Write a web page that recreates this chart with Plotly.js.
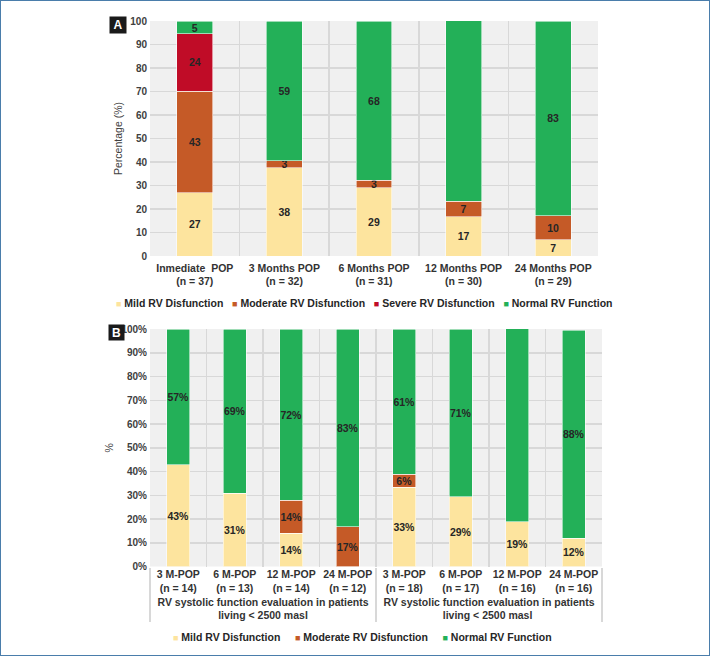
<!DOCTYPE html>
<html><head><meta charset="utf-8">
<script src="https://cdn.plot.ly/plotly-3.0.1.min.js"></script>
<style>
html,body{margin:0;padding:0;background:#fff}
#wrap{position:relative;width:710px;height:656px}
#chart{width:710px;height:656px}
#frame{position:absolute;left:0;top:0;width:710px;height:656px;box-sizing:border-box;border:1.5px solid #4a7dab;pointer-events:none}
</style>
</head><body><div id="wrap"><div id="chart"></div><div id="frame"></div></div>
<script>
// ---------- Panel A data ----------
const catsA = ['Inmediate\u00a0\u00a0POP<br>(n = 37)', '3 Months POP<br>(n = 32)', '6 Months POP<br>(n = 31)', '12 Months POP<br>(n = 30)', '24 Months POP<br>(n = 29)'];
const mildA     = [27.0, 37.5, 29.0, 16.7, 6.9];
const moderateA = [43.2, 3.1, 3.2, 6.7, 10.3];
const severeA   = [24.3, null, null, null, null];
const normalA   = [5.4, 59.4, 67.7, 76.7, 82.8];
const namesA = ['Mild RV Disfunction', 'Moderate RV Disfunction', 'Severe RV Disfunction', 'Normal RV Function'];

// ---------- Panel B data ----------
const groupLabel1 = 'RV systolic function evaluation in patients<br>living &lt; 2500 masl';
const groupLabel2 = 'RV systolic function evaluation in patients<br>living &lt; 2500 masl\u00a0';
const groupsB = [groupLabel1, groupLabel1, groupLabel1, groupLabel1, groupLabel2, groupLabel2, groupLabel2, groupLabel2];
const catsB = ['3 M-POP<br>(n = 14)', '6 M-POP<br>(n = 13)', '12 M-POP<br>(n = 14)', '24 M-POP<br>(n = 12)',
               '3 M-POP<br>(n = 18)', '6 M-POP<br>(n = 17)', '12 M-POP<br>(n = 16)', '24 M-POP<br>(n = 16)'];
const mildB     = [42.9, 30.8, 14.0, null, 33.3, 29.4, 18.8, 12.0];
const moderateB = [null, null, 14.0, 16.7, 5.6, null, null, null];
const normalB   = [57.1, 69.2, 72.0, 83.3, 61.1, 70.6, 81.3, 87.5];
const namesB = ['Mild RV Disfunction', 'Moderate RV Disfunction', 'Normal RV Function'];

// ---------- styles ----------
const C = {mild:'#fde49e', moderate:'#c55a27', severe:'#c00c27', normal:'#23b058'};
const FONT = 'Liberation Sans, Arial, sans-serif';
const W = 710, H = 656;

function barA(y, color){
  return {type:'bar', x:catsA, y:y, xaxis:'x', yaxis:'y', width:0.4,
    marker:{color:color, line:{color:'rgba(255,255,255,0.7)', width:0.8}},
    texttemplate:'%{y:.0f}', textposition:'inside', insidetextanchor:'middle',
    textangle:0, constraintext:'none', cliponaxis:false,
    textfont:{family:FONT, size:10.5, color:'#262626', weight:'bold'},
    showlegend:false, hoverinfo:'y'};
}
function barB(y, color){
  return {type:'bar', x:[groupsB, catsB], y:y, xaxis:'x2', yaxis:'y2', width:0.4,
    marker:{color:color, line:{color:'rgba(255,255,255,0.7)', width:0.8}},
    texttemplate:'%{y:.0f}%', textposition:'inside', insidetextanchor:'middle',
    textangle:0, constraintext:'none', cliponaxis:false,
    textfont:{family:FONT, size:10.5, color:'#262626', weight:'bold'},
    showlegend:false, hoverinfo:'y'};
}

const data = [
  barA(mildA, C.mild), barA(moderateA, C.moderate), barA(severeA, C.severe), barA(normalA, C.normal),
  barB(mildB, C.mild), barB(moderateB, C.moderate), barB(normalB, C.normal)
];

function legendText(names, colors, gap){
  return names.map((n,i)=>'<span style="color:'+colors[i]+';font-size:9px">\u25A0</span>\u00a0'+n).join(gap);
}

const gridC = '#d8d8d8';
const tickFont = {family:FONT, size:10, color:'#404040', weight:'bold'};
const xTickFont = {family:FONT, size:10.5, color:'#333333', weight:'bold'};

const layout = {
  width:W, height:H, margin:{l:0, r:0, t:0, b:0},
  paper_bgcolor:'#ffffff', plot_bgcolor:'#f0f0f0',
  barmode:'stack', showlegend:false,
  font:{family:FONT, color:'#333'},
  xaxis:{domain:[150/W, 598/W], anchor:'y', type:'category', tickson:'boundaries',
    showgrid:true, gridcolor:gridC, gridwidth:1.5, ticks:'', tickfont:xTickFont, tickangle:0,
    ticklabelstandoff:4, automargin:false},
  yaxis:{domain:[(H-256)/H, (H-21)/H], anchor:'x', range:[0,100], dtick:10,
    showgrid:true, gridcolor:gridC, gridwidth:1.5, zeroline:false, ticks:'',
    tickfont:tickFont, ticklabelstandoff:2, automargin:false,
    title:{text:'Percentage (%)', standoff:5, font:{family:FONT, size:10.5, color:'#404040'}}},
  xaxis2:{domain:[150/W, 602/W], anchor:'y2', type:'multicategory', tickson:'boundaries',
    showgrid:true, gridcolor:gridC, gridwidth:1.5, ticks:'', tickfont:xTickFont, tickangle:0,
    showdividers:true, dividercolor:gridC, dividerwidth:1.5, automargin:false},
  yaxis2:{domain:[(H-566.5)/H, (H-329)/H], anchor:'x2', range:[0,100], dtick:10, ticksuffix:'%',
    showgrid:true, gridcolor:gridC, gridwidth:1.5, zeroline:false, ticks:'',
    tickfont:tickFont, ticklabelstandoff:2, automargin:false,
    title:{text:'%', standoff:5, font:{family:FONT, size:10.5, color:'#404040'}}},
  annotations:[
    {text:'<b>A</b>', xref:'paper', yref:'paper', x:109/W, y:(H-16.5)/H, showarrow:false,
     width:14, height:14, bgcolor:'#1a1a1a', font:{family:FONT, size:12, color:'#ffffff'}},
    {text:'<b>B</b>', xref:'paper', yref:'paper', x:108/W, y:(H-332.5)/H, showarrow:false,
     width:13, height:13, bgcolor:'#1a1a1a', font:{family:FONT, size:12, color:'#ffffff'}},
    {text:legendText(namesA, [C.mild, C.moderate, C.severe, C.normal], '\u00a0\u00a0\u00a0'), xref:'paper', yref:'paper',
     x:364/W, y:(H-303)/H, xanchor:'center', yanchor:'middle', showarrow:false,
     font:{family:FONT, size:10.5, color:'#262626', weight:'bold'}},
    {text:legendText(namesB, [C.mild, C.moderate, C.normal], '\u00a0\u00a0\u00a0\u00a0\u00a0'), xref:'paper', yref:'paper',
     x:362.5/W, y:(H-637)/H, xanchor:'center', yanchor:'middle', showarrow:false,
     font:{family:FONT, size:10.5, color:'#262626', weight:'bold'}}
  ]
};

Plotly.newPlot('chart', data, layout, {staticPlot:true, displayModeBar:false});
</script>
</body></html>
